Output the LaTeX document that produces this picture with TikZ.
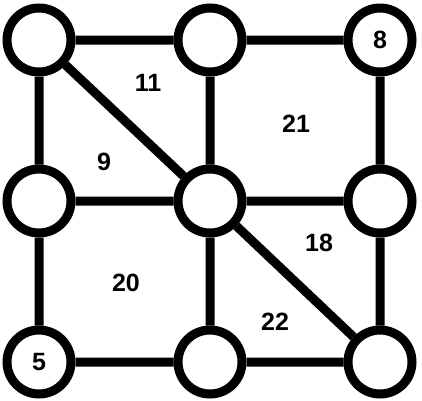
\documentclass[tikz,border=0pt]{standalone}
\usepackage{fontspec}
\setmainfont{Liberation Sans}
\begin{document}
\begin{tikzpicture}[x=1pt,y=-1pt,
  vert/.style={circle,draw=black,line width=9pt,minimum size=64pt,inner sep=0pt,fill=white,font=\bfseries\fontsize{25}{25}\selectfont},
  edge/.style={line width=9pt},
  lab/.style={font=\bfseries\fontsize{25}{25}\selectfont}]
\useasboundingbox (0,0) rectangle (422,400);
\node[vert] (a) at (39,40) {};
\node[vert] (b) at (210,40) {};
\node[vert] (c) at (380,40) {8};
\node[vert] (d) at (39,201) {};
\node[vert] (e) at (210,201) {};
\node[vert] (f) at (380,201) {};
\node[vert] (g) at (39,362) {5};
\node[vert] (h) at (210,362) {};
\node[vert] (i) at (380,362) {};
\draw[edge] (a) -- (b) (b) -- (c) (d) -- (e) (e) -- (f) (g) -- (h) (h) -- (i)
  (a) -- (d) (d) -- (g) (b) -- (e) (e) -- (h) (c) -- (f) (f) -- (i)
  (a) -- (e) (e) -- (i);
\node[lab] (l11) at (148,83) {11};
\node[lab] (l9) at (104,162) {9};
\node[lab] (l21) at (296,124) {21};
\node[lab] (l20) at (126,283) {20};
\node[lab] (l18) at (319,243) {18};
\node[lab] (l22) at (275,322) {22};
\end{tikzpicture}
\end{document}
